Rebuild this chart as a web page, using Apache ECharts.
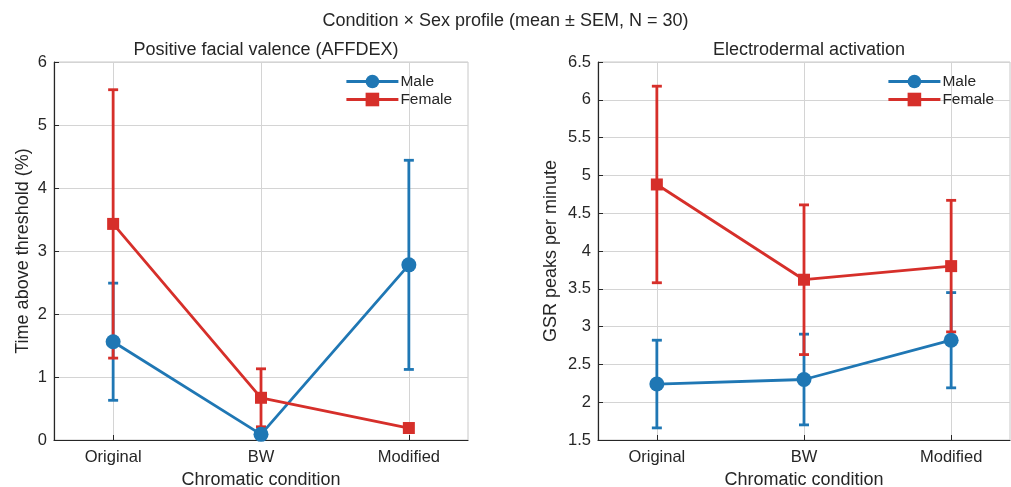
<!DOCTYPE html>
<html>
<head>
<meta charset="utf-8">
<script src="https://cdn.jsdelivr.net/npm/echarts@6/dist/echarts.min.js"></script>
<style>
	html, body { margin: 0; padding: 0; background: #fff; }
	#chart { width: 1011px; height: 487px; }
</style>
</head>
<body>
<div id="chart"></div>
<script>
'use strict';
// chart data
var categories = ['Original', 'BW', 'Modified'];
var catPos = [1, 2, 3];

var facialMaleMean = [1.56, 0.09, 2.78];
var facialMaleSem = [0.93, 0.07, 1.66];
var facialFemaleMean = [3.43, 0.67, 0.19];
var facialFemaleSem = [2.13, 0.46, 0.06];

var gsrMaleMean = [2.24, 2.30, 2.82];
var gsrMaleSem = [0.58, 0.60, 0.63];
var gsrFemaleMean = [4.88, 3.62, 3.80];
var gsrFemaleSem = [1.30, 0.99, 0.87];

var blue = '#1f77b4';
var red = '#d62f2a';
var ink = '#262626';
var font = 'Liberation Sans, Arial, Helvetica, sans-serif';

function points(mean) {
	return mean.map(function (v, i) { return [catPos[i], v]; });
}
function bars(mean, sem) {
	return mean.map(function (v, i) { return [catPos[i], v - sem[i], v + sem[i]]; });
}
function errSeries(name, idx, color, mean, sem) {
	return {
		name: name,
		type: 'custom',
		xAxisIndex: idx,
		yAxisIndex: idx,
		z: 2,
		encode: { x: 0, y: [1, 2] },
		data: bars(mean, sem),
		renderItem: function (params, api) {
			var x = api.value(0);
			var top = api.coord([x, api.value(2)]);
			var bot = api.coord([x, api.value(1)]);
			var half = 5;
			var st = { stroke: color, lineWidth: 2.8 };
			return {
				type: 'group',
				children: [
					{ type: 'line', shape: { x1: top[0], y1: top[1], x2: bot[0], y2: bot[1] }, style: st },
					{ type: 'line', shape: { x1: top[0] - half, y1: top[1], x2: top[0] + half, y2: top[1] }, style: st },
					{ type: 'line', shape: { x1: bot[0] - half, y1: bot[1], x2: bot[0] + half, y2: bot[1] }, style: st }
				]
			};
		}
	};
}
function lineSeries(name, idx, color, symbol, size, mean) {
	return {
		name: name,
		type: 'line',
		xAxisIndex: idx,
		yAxisIndex: idx,
		z: 3,
		symbol: symbol,
		symbolSize: size,
		clip: false,
		itemStyle: { color: color },
		lineStyle: { color: color, width: 2.8 },
		data: points(mean)
	};
}
function xAxis(idx) {
	return {
		type: 'value',
		gridIndex: idx,
		min: 0.6,
		max: 3.4,
		name: 'Chromatic condition',
		nameLocation: 'middle',
		nameGap: 26,
		nameTextStyle: { color: ink, fontSize: 18, fontFamily: font },
		axisLine: { show: true, lineStyle: { color: ink, width: 1.2 } },
		axisTick: { show: true, inside: true, length: 5, customValues: catPos, lineStyle: { color: ink } },
		axisLabel: {
			customValues: catPos,
			margin: 9,
			color: ink,
			fontSize: 16.5,
			fontFamily: font,
			formatter: function (v) { return categories[Math.round(v) - 1]; }
		},
		splitLine: { show: true, lineStyle: { color: '#d4d4d4', width: 1 } }
	};
}
function yAxis(idx, name, min, max, interval, gap) {
	return {
		type: 'value',
		gridIndex: idx,
		min: min,
		max: max,
		interval: interval,
		name: name,
		nameLocation: 'middle',
		nameGap: gap,
		nameTextStyle: { color: ink, fontSize: 18, fontFamily: font },
		axisLine: { show: true, lineStyle: { color: ink, width: 1.2 } },
		axisTick: { show: true, inside: true, length: 5, lineStyle: { color: ink } },
		axisLabel: { margin: 7, color: ink, fontSize: 16.5, fontFamily: font },
		splitLine: { show: true, lineStyle: { color: '#d4d4d4', width: 1 } }
	};
}
function legend(left) {
	return {
		data: ['Male', 'Female'],
		orient: 'vertical',
		left: left,
		top: 73.5,
		padding: 0,
		itemWidth: 52,
		itemHeight: 17,
		itemGap: 2,
		selectedMode: false,
		lineStyle: { width: 2.8 },
		textStyle: { color: ink, fontSize: 15.5, fontFamily: font, padding: [0, 0, 0, -3] }
	};
}

var myChart = echarts.init(document.getElementById('chart'));
var option = {
	animation: false,
	backgroundColor: '#fff',
	title: [{
		text: 'Condition \u00d7 Sex profile (mean \u00b1 SEM, N = 30)',
		left: 'center',
		top: 7,
		textStyle: { color: ink, fontSize: 18, fontWeight: 'normal', fontFamily: font }
	}, {
		text: 'Positive facial valence (AFFDEX)',
		left: 261,
		textAlign: 'center',
		top: 36,
		textStyle: { color: ink, fontSize: 18, fontWeight: 'normal', fontFamily: font }
	}, {
		text: 'Electrodermal activation',
		left: 804,
		textAlign: 'center',
		top: 36,
		textStyle: { color: ink, fontSize: 18, fontWeight: 'normal', fontFamily: font }
	}],
	legend: [legend(345), legend(887)],
	grid: [{
		left: 54, right: 543, top: 62, bottom: 47,
		outerBoundsMode: 'none',
		show: true, borderColor: '#c8c8c8', borderWidth: 1
	}, {
		left: 598, right: 1, top: 62, bottom: 47,
		outerBoundsMode: 'none',
		show: true, borderColor: '#c8c8c8', borderWidth: 1
	}],
	xAxis: [xAxis(0), xAxis(1)],
	yAxis: [
		yAxis(0, 'Time above threshold (%)', 0, 6, 1, 22),
		yAxis(1, 'GSR peaks per minute', 1.5, 6.5, 0.5, 38)
	],
	series: [
		errSeries('Male SEM', 0, blue, facialMaleMean, facialMaleSem),
		errSeries('Female SEM', 0, red, facialFemaleMean, facialFemaleSem),
		lineSeries('Male', 0, blue, 'circle', 15, facialMaleMean),
		lineSeries('Female', 0, red, 'rect', 12, facialFemaleMean),
		errSeries('Male SEM', 1, blue, gsrMaleMean, gsrMaleSem),
		errSeries('Female SEM', 1, red, gsrFemaleMean, gsrFemaleSem),
		lineSeries('Male', 1, blue, 'circle', 15, gsrMaleMean),
		lineSeries('Female', 1, red, 'rect', 12, gsrFemaleMean)
	]
};
myChart.setOption(option);
</script>
</body>
</html>
